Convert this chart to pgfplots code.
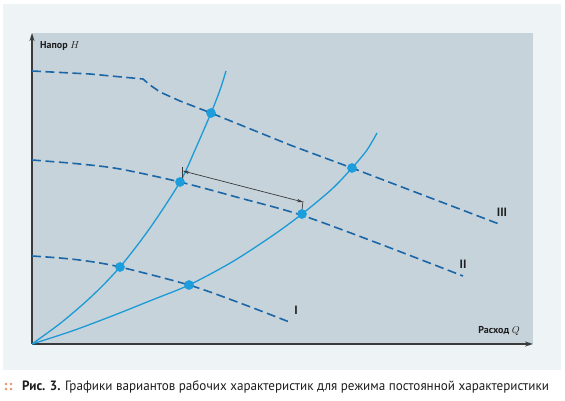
\documentclass[border=0pt]{standalone}
\usepackage{fontspec}
\setmainfont{PT Sans}
\setsansfont{PT Sans}
\newfontfamily\capfont[FakeStretch=0.97]{PT Sans}
\usepackage{pgfplots}
\pgfplotsset{compat=1.18}
\usetikzlibrary{arrows.meta}
\definecolor{outerbg}{HTML}{EEF3F6}
\definecolor{innerbg}{HTML}{C6D3DB}
\definecolor{solidc}{HTML}{1B9AD6}
\definecolor{dashc}{HTML}{1A66A6}
\definecolor{dotc}{HTML}{1C9DDC}
\definecolor{axisc}{HTML}{3A3A3A}
\definecolor{orangec}{HTML}{E9906A}
\definecolor{textc}{HTML}{1E1E1E}
\begin{document}
\begin{tikzpicture}
\fill[white] (-32pt,-56pt) rectangle (533pt,344pt);
\fill[outerbg] (-29pt,-26pt) rectangle (529pt,340pt);
\fill[innerbg] (0pt,0pt) rectangle (501pt,311pt);
\begin{axis}[
  scale only axis, width=501pt, height=311pt,
  xmin=0, xmax=501, ymin=0, ymax=311,
  axis lines=left,
  axis line style={draw=axisc, line width=1.3pt, -{Stealth[length=8pt,width=5pt]}},
  xtick=\empty, ytick=\empty, clip=false,
]
% pump curves (dashed)
\addplot[dashc, line width=1.6pt, dash pattern=on 9pt off 4.5pt] coordinates {
 (0,273) (58,270) (111,265) (118,259) (128,252) (148,243) (179,231) (258,199) (320,176) (467,120)};
\addplot[dashc, line width=1.6pt, dash pattern=on 9pt off 4.5pt, smooth] coordinates {
 (0,184) (48,180) (88,175) (148,162) (208,146) (269,129) (348,100) (431,68)};
\addplot[dashc, line width=1.6pt, dash pattern=on 9pt off 4.5pt, smooth] coordinates {
 (0,88) (28,86) (55,83) (88,77) (157,59) (208,41) (260,21)};
% system curves (solid)
\addplot[solidc, line width=1.3pt, smooth] coordinates {
 (0,0) (30,22) (60,48) (88,77) (118,116) (148,162) (163,194) (179,231) (188,254) (194,273)};
\addplot[solidc, line width=1.3pt, smooth] coordinates {
 (0,0) (40,13) (80,28) (120,44) (157,59) (200,82) (240,108) (270,130) (300,155) (320,176) (335,194) (345,211)};
% operating points
\addplot[only marks, mark=*, mark size=4.6pt, mark options={fill=dotc, draw=dotc}] coordinates {
 (88,77) (157,59) (148,162) (270,130) (179,231) (320,176)};
% dimension arrow
\addplot[axisc, line width=0.7pt, {Stealth[length=6pt,width=3.5pt]}-{Stealth[length=6pt,width=3.5pt]}] coordinates {(151,173) (271,142)};
\addplot[axisc, line width=0.7pt] coordinates {(150,177) (150,166)};
\addplot[axisc, line width=0.7pt] coordinates {(271,143) (270,134)};
% labels
\node[font=\bfseries\fontsize{12}{12}\selectfont, text=textc] at (axis cs:470,132) {III};
\node[font=\bfseries\fontsize{12}{12}\selectfont, text=textc] at (axis cs:431,80) {II};
\node[font=\bfseries\fontsize{12}{12}\selectfont, text=textc] at (axis cs:264,34) {I};
\node[anchor=west, inner sep=0pt, text=textc, font=\fontsize{10}{12}\selectfont] at (axis cs:8,298) {\textbf{Напор} $H$};
\node[anchor=east, inner sep=0pt, text=textc, font=\fontsize{10}{12}\selectfont] at (axis cs:488,13) {\textbf{Расход} $Q$};
\end{axis}
\fill[orangec] (-26pt,-40pt) circle (1.4pt) (-21pt,-40pt) circle (1.4pt) (-26pt,-45pt) circle (1.4pt) (-21pt,-45pt) circle (1.4pt);
\node[anchor=west, inner sep=0pt, text=textc] at (-10pt,-42.5pt) {\capfont\fontsize{13.5}{14}\selectfont\textbf{Рис. 3.} Графики вариантов рабочих характеристик для режима постоянной характеристики};
\end{tikzpicture}
\end{document}
